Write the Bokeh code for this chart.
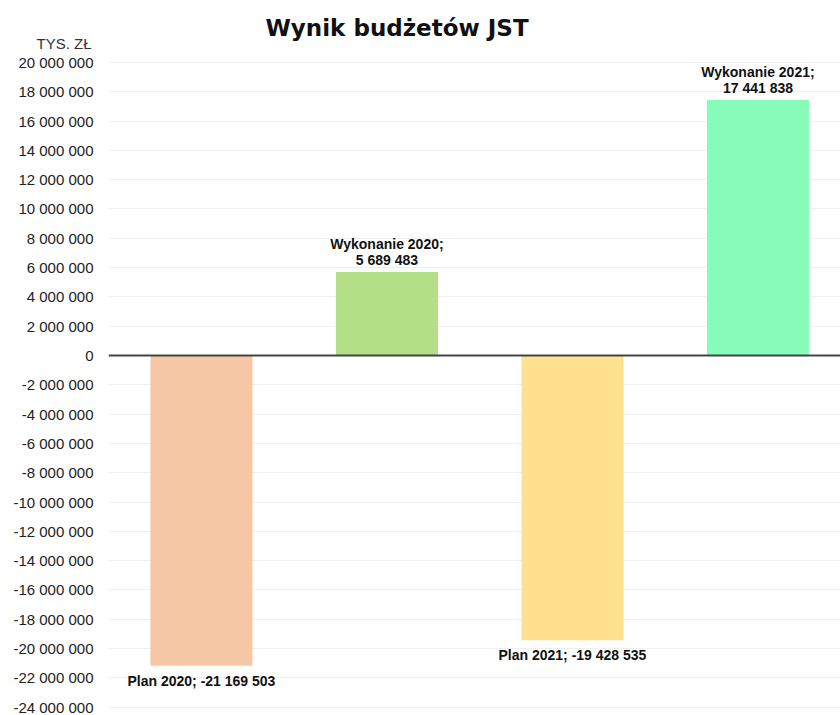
from bokeh.plotting import figure
from bokeh.models import (ColumnDataSource, Range1d, FixedTicker, CustomJSTickFormatter,
                          Span, Title)
from bokeh.core.properties import value
from bokeh.embed import file_html
from bokeh.resources import INLINE

# ---- data ----
categories = ["Plan 2020", "Wykonanie 2020", "Plan 2021", "Wykonanie 2021"]
values = [-21169503, 5689483, -19428535, 17441838]
colors = ["#F5C7A5", "#B3DF86", "#FFE190", "#87FCB9"]
tick_values = [-24000000, -22000000, -20000000, -18000000, -16000000, -14000000,
               -12000000, -10000000, -8000000, -6000000, -4000000, -2000000, 0,
               2000000, 4000000, 6000000, 8000000, 10000000, 12000000, 14000000,
               16000000, 18000000, 20000000]
title_text = "Wynik budżetów JST"
unit_text = "TYS. ZŁ"


def fmt(v):
    return f"{v:,}".replace(",", " ")


idx = list(range(len(categories)))

src = ColumnDataSource(dict(x=idx, top=values, color=colors))

pos = [i for i, v in enumerate(values) if v >= 0]
neg = [i for i, v in enumerate(values) if v < 0]
pos_src = ColumnDataSource(dict(
    x=pos,
    y=[values[i] for i in pos],
    line1=[categories[i] + ";" for i in pos],
    line2=[fmt(values[i]) for i in pos],
))
neg_src = ColumnDataSource(dict(
    x=neg,
    y=[values[i] for i in neg],
    label=[categories[i] + "; " + fmt(values[i]) for i in neg],
))

p = figure(width=840, height=715, output_backend="svg", toolbar_location=None,
           title=None,
           x_range=Range1d(-0.501, 3.445), y_range=Range1d(-24570000, 20610000),
           min_border_left=108, min_border_right=0, min_border_top=53,
           min_border_bottom=0)

# unit label (closest to the frame), then main title above it
p.add_layout(Title(text=unit_text, align="left", offset=-72, standoff=3,
                   text_font="Liberation Sans", text_font_size="15px",
                   text_font_style="normal", text_color="#333333"), "above")
p.add_layout(Title(text=title_text, align="left", offset=157, standoff=-18,
                   text_font="DejaVu Sans", text_font_size="23px",
                   text_font_style="bold", text_color="#111111"), "above")

p.vbar(x="x", top="top", bottom=0, width=0.55, fill_color="color",
       line_color=None, source=src)

p.add_layout(Span(location=0, dimension="width", line_color="#444444", line_width=2))

lbl_style = dict(text_align="center", text_baseline="middle",
                 text_font=value("Liberation Sans"), text_font_size="14px",
                 text_font_style="bold", text_color="#111111")
p.text(x="x", y="y", text="line1", source=pos_src, y_offset=-28, **lbl_style)
p.text(x="x", y="y", text="line2", source=pos_src, y_offset=-12, **lbl_style)
p.text(x="x", y="y", text="label", source=neg_src, y_offset=15, **lbl_style)

p.xaxis.visible = False
p.xgrid.visible = False
p.outline_line_color = None

yax = p.yaxis[0]
yax.ticker = FixedTicker(ticks=tick_values)
yax.formatter = CustomJSTickFormatter(
    code="return tick.toFixed(0).replace(/\\B(?=(\\d{3})+(?!\\d))/g, ' ');")
yax.axis_line_color = None
yax.major_tick_line_color = None
yax.minor_tick_line_color = None
yax.major_tick_in = 0
yax.major_tick_out = 0
yax.major_label_standoff = 15
yax.major_label_text_font = "Liberation Sans"
yax.major_label_text_font_size = "15px"
yax.major_label_text_color = "#222222"

p.ygrid.ticker = FixedTicker(ticks=tick_values)
p.ygrid.grid_line_color = "#efefef"

p.background_fill_color = "white"
p.border_fill_color = "white"

open("out.html", "w").write(file_html(p, INLINE))
